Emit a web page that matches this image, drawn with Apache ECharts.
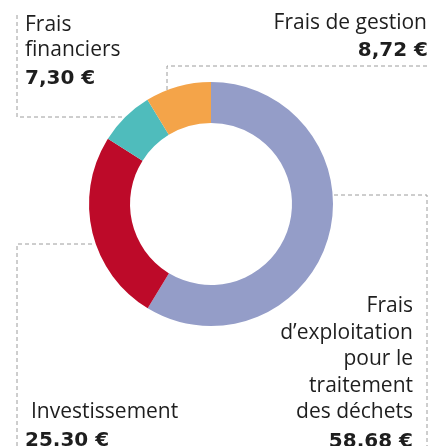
<!DOCTYPE html>
<html>
<head>
<meta charset="utf-8">
<script src="https://cdn.jsdelivr.net/npm/echarts@6/dist/echarts.min.js"></script>
<style>
  html, body { margin: 0; padding: 0; background: #fff; }
  #chart { width: 433px; height: 446px; }
</style>
</head>
<body>
<div id="chart"></div>
<script>
// données du graphique (en € sur 100 €)
const names = ['Frais d\u2019exploitation pour le traitement des déchets', 'Investissement', 'Frais financiers', 'Frais de gestion']
const values = [58.68, 25.30, 7.30, 8.72]
const colors = ['#949dc8', '#bd0a29', '#4fbcbc', '#f4a449']

// textes des étiquettes
const labelLines = [
  ['Frais', 'd\u2019exploitation', 'pour le', 'traitement', 'des déchets'],
  ['Investissement'],
  ['Frais', 'financiers'],
  ['Frais de gestion']
]
const valueLabels = ['58.68 €', '25.30 €', '7,30 €', '8,72 €']

const FONT = '"Open Sans", sans-serif'
const SIZE = 21
const BOLD_FONT = 'bold 20px "DejaVu Sans", sans-serif'

// position des blocs de texte : x, ligne de base de la 1re ligne, interligne, alignement
const blocks = [
  { x: 413, base: 313, lh: 26.5, align: 'right', vx: 413 },
  { x: 31, base: 419, lh: 25.5, align: 'left', vx: 25 },
  { x: 25, base: 31.5, lh: 25.5, align: 'left', vx: 25 },
  { x: 427, base: 30, lh: 25, align: 'right', vx: 428 }
]

// traits pointillés
const leaders = [
  [[313, 195], [427, 195], [427, 446]],
  [[92, 244], [17, 244], [17, 446]],
  [[17, 15], [17, 117], [124, 117]],
  [[167, 90], [167, 66], [430, 66]]
]

const graphic = []
leaders.forEach(pts => {
  graphic.push({
    type: 'polyline',
    shape: { points: pts },
    style: { stroke: '#9c9c9c', lineWidth: 1, lineDash: [4, 3], fill: null },
    silent: true
  })
})

function addText(x, baseline, text, align, bold) {
  graphic.push({
    type: 'text',
    x: x,
    y: baseline - SIZE * 0.33 + (bold ? 3 : 0),
    silent: true,
    style: {
      text: text,
      fill: '#1e1e1e',
      font: bold ? BOLD_FONT : SIZE + 'px ' + FONT,
      align: align,
      verticalAlign: 'middle'
    }
  })
}

blocks.forEach((b, i) => {
  labelLines[i].forEach((t, j) => addText(b.x, b.base + j * b.lh, t, b.align, false))
  addText(b.vx, b.base + labelLines[i].length * b.lh, valueLabels[i], b.align, true)
})

const chart = echarts.init(document.getElementById('chart'))
chart.setOption({
  animation: false,
  backgroundColor: '#fff',
  series: [{
    type: 'pie',
    center: [211, 204],
    radius: [81, 122],
    startAngle: 90,
    clockwise: true,
    silent: true,
    label: { show: false },
    labelLine: { show: false },
    data: names.map((n, i) => ({ name: n, value: values[i], itemStyle: { color: colors[i] } }))
  }],
  graphic: graphic
})
</script>
</body>
</html>
